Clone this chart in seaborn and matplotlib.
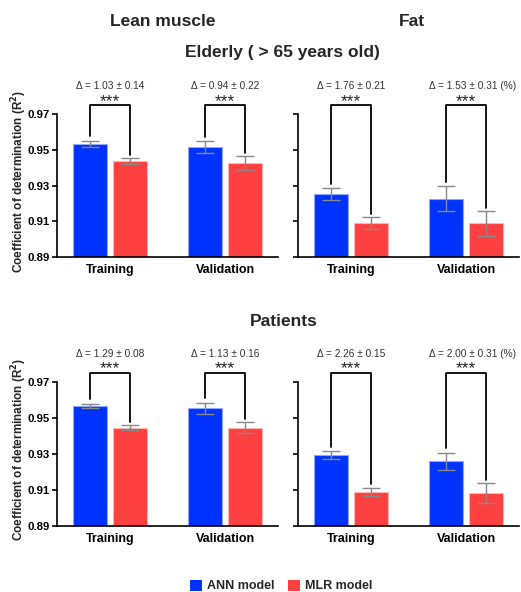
import numpy as np
import pandas as pd
import matplotlib
matplotlib.use("Agg")
import matplotlib.pyplot as plt
import matplotlib.colors as mcolors
import seaborn as sns
from matplotlib.patches import Patch

# ---------------- data ----------------
splits = ["Training", "Validation"]
models = ["ANN model", "MLR model"]
yticks = [0.89, 0.91, 0.93, 0.95, 0.97]

elderly_lean_ann = [0.9533, 0.9514]
elderly_lean_ann_sd = [0.0017, 0.0034]
elderly_lean_mlr = [0.9437, 0.9425]
elderly_lean_mlr_sd = [0.0016, 0.0038]
elderly_lean_delta = ["\u0394 = 1.03 \u00b1 0.14", "\u0394 = 0.94 \u00b1 0.22"]

elderly_fat_ann = [0.9252, 0.9227]
elderly_fat_ann_sd = [0.0032, 0.0068]
elderly_fat_mlr = [0.9091, 0.9088]
elderly_fat_mlr_sd = [0.0033, 0.0069]
elderly_fat_delta = ["\u0394 = 1.76 \u00b1 0.21", "\u0394 = 1.53 \u00b1 0.31 (%)"]

patients_lean_ann = [0.9565, 0.9552]
patients_lean_ann_sd = [0.0012, 0.0030]
patients_lean_mlr = [0.9444, 0.9444]
patients_lean_mlr_sd = [0.0014, 0.0031]
patients_lean_delta = ["\u0394 = 1.29 \u00b1 0.08", "\u0394 = 1.13 \u00b1 0.16"]

patients_fat_ann = [0.9291, 0.9257]
patients_fat_ann_sd = [0.0023, 0.0047]
patients_fat_mlr = [0.9088, 0.9080]
patients_fat_mlr_sd = [0.0024, 0.0055]
patients_fat_delta = ["\u0394 = 2.26 \u00b1 0.15", "\u0394 = 2.00 \u00b1 0.31 (%)"]

significance = "***"

# ---------------- style ----------------
ann_color = "#0033FF"
mlr_color = "#FF4040"
palette = {"ANN model": ann_color, "MLR model": mlr_color}
edge_colors = {"ANN model": "#8FA6FF", "MLR model": "#FFB3B3"}

sns.set_theme(style="ticks")
plt.rcParams['font.family'] = ['Liberation Sans', 'DejaVu Sans']
plt.rcParams['axes.linewidth'] = 1.2

fig = plt.figure(figsize=(5.21, 5.92), dpi=100)

W, H = 521.0, 592.0
def rect(x0, ytop, ybot, w):
    return [x0 / W, 1 - ybot / H, w / W, (ybot - ytop) / H]

panels = [
    (rect(57, 114, 257, 221), elderly_lean_ann, elderly_lean_ann_sd, elderly_lean_mlr, elderly_lean_mlr_sd, elderly_lean_delta, True),
    (rect(298, 114, 257, 221), elderly_fat_ann, elderly_fat_ann_sd, elderly_fat_mlr, elderly_fat_mlr_sd, elderly_fat_delta, False),
    (rect(57, 381.7, 525.7, 221), patients_lean_ann, patients_lean_ann_sd, patients_lean_mlr, patients_lean_mlr_sd, patients_lean_delta, True),
    (rect(298, 381.7, 525.7, 221), patients_fat_ann, patients_fat_ann_sd, patients_fat_mlr, patients_fat_mlr_sd, patients_fat_delta, False),
]

for r, ann, ann_sd, mlr, mlr_sd, deltas, show_labels in panels:
    ax = fig.add_axes(r)
    df = pd.DataFrame({
        "split": splits * 2,
        "model": [models[0]] * 2 + [models[1]] * 2,
        "r2": ann + mlr,
    })
    sd_lookup = {(models[0], s): v for s, v in zip(splits, ann_sd)}
    sd_lookup.update({(models[1], s): v for s, v in zip(splits, mlr_sd)})

    sns.barplot(data=df, x="split", y="r2", hue="model", order=splits,
                hue_order=models, palette=palette, width=0.7, gap=0.15,
                errorbar=None, ax=ax, legend=False, linewidth=0.8,
                saturation=1)

    ax.set_ylim(0.89, 0.97)
    ax.set_xlim(-0.46, 1.46)
    ax.set_yticks(yticks)
    ax.set_xlabel("")
    ax.set_ylabel("")
    sns.despine(ax=ax)

    # error bars and bracket positions from the drawn bars
    tops = {}
    xs = {}
    ann_rgb = mcolors.to_rgb(ann_color)
    for p in ax.patches:
        fc = p.get_facecolor()[:3]
        model = models[0] if np.allclose(fc, ann_rgb, atol=0.02) else models[1]
        p.set_edgecolor(edge_colors[model])
        xc = p.get_x() + p.get_width() / 2
        split = splits[int(round(xc))]
        h = p.get_height() + p.get_y()
        sd = sd_lookup[(model, split)]
        ax.errorbar(xc, h, yerr=sd, color="#888888", lw=1.0, capsize=6.5,
                    capthick=1.0, zorder=3)
        tops[(model, split)] = h + sd
        xs[(model, split)] = xc

    for i, s in enumerate(splits):
        xa, xm = xs[(models[0], s)], xs[(models[1], s)]
        ytop = 0.9748
        ax.plot([xa, xa, xm, xm],
                [tops[(models[0], s)] + 0.0025, ytop, ytop, tops[(models[1], s)] + 0.0017],
                color="black", lw=1.3, clip_on=False, zorder=4)
        ax.text((xa + xm) / 2, 0.9770, significance, ha="center", va="center",
                fontsize=12.5, color="#222222", clip_on=False)
        off = 0.06 if "(%)" in deltas[i] else 0.0
        ax.text((xa + xm) / 2 + off, 0.9855, deltas[i], ha="center", va="center",
                fontsize=7.3, color="#333333", clip_on=False)

    ax.tick_params(axis="y", length=3.5, width=1.2, pad=1.5, labelsize=8.2,
                   labelleft=show_labels, colors="black")
    ax.tick_params(axis="x", length=0, pad=5, labelsize=9, colors="black")
    ax.set_yticklabels(["%.2f" % t for t in yticks] if show_labels else [])
    for lbl in ax.get_yticklabels() + ax.get_xticklabels():
        lbl.set_fontweight("bold")
    ax.spines["left"].set_color("black")
    ax.spines["bottom"].set_color("black")

# y labels
for yc in [181, 449]:
    fig.text(19 / W, 1 - yc / H, "Coefficient of determination (R$\\mathbf{^2}$)",
             rotation=90, ha="center", va="center", fontsize=8.5, fontweight="bold")

# titles
fig.text(163 / W, 1 - 22 / H, "Lean muscle", ha="center", va="center",
         fontsize=12.5, fontweight="bold")
fig.text(412 / W, 1 - 22 / H, "Fat", ha="center", va="center",
         fontsize=12.5, fontweight="bold")
fig.text(282 / W, 1 - 53 / H, "Elderly ( > 65 years old)", ha="center", va="center",
         fontsize=12.5, fontweight="bold")
fig.text(284 / W, 1 - 321 / H, "Patients", ha="center", va="center",
         fontsize=12.5, fontweight="bold")

# legend
handles = [Patch(facecolor=palette[m], edgecolor="none") for m in models]
leg = fig.legend(handles, models, loc="center", bbox_to_anchor=(281 / W, 1 - 586 / H),
                 ncol=2, frameon=False, handlelength=1.0, handleheight=1.0,
                 handletextpad=0.35, columnspacing=1.1, borderpad=0.1,
                 prop={"weight": "bold", "size": 9})

fig.savefig("out.png", dpi=100)
